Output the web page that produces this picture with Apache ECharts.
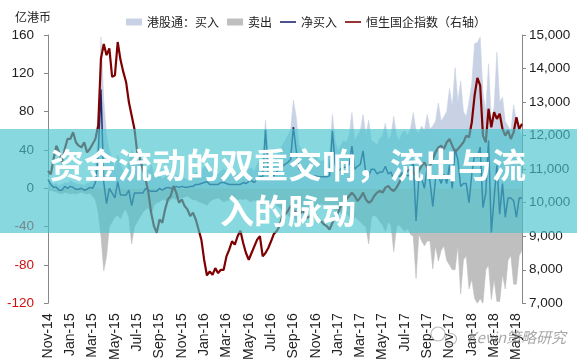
<!DOCTYPE html>
<html><head><meta charset="utf-8">
<script src="https://cdn.jsdelivr.net/npm/echarts@6/dist/echarts.min.js"></script>
<style>html,body{margin:0;padding:0;background:#fff}#c{width:577px;height:363px}</style>
</head><body><div id="c"></div>
<script>
// month names (tick labels are every second month)
const months = ["Nov-14","Dec-14",
 "Jan-15","Feb-15","Mar-15","Apr-15","May-15","Jun-15","Jul-15","Aug-15","Sep-15","Oct-15","Nov-15","Dec-15",
 "Jan-16","Feb-16","Mar-16","Apr-16","May-16","Jun-16","Jul-16","Aug-16","Sep-16","Oct-16","Nov-16","Dec-16",
 "Jan-17","Feb-17","Mar-17","Apr-17","May-17","Jun-17","Jul-17","Aug-17","Sep-17","Oct-17","Nov-17","Dec-17",
 "Jan-18","Feb-18","Mar-18","Apr-18","May-18"];

// 港股通：买入 (亿港币), ~weekly
const buy = [
 12,6,4,5,3,4,6,5,8,6,
 5,4,4,3,5,6,8,18,60,158,
 92,55,40,30,20,35,25,18,15,28,
 40,35,30,25,20,22,18,25,15,12,
 14,10,12,15,12,10,14,11,12,10,
 9,12,14,16,18,20,22,25,18,16,
 15,14,18,20,18,16,15,14,16,15,
 18,16,20,22,18,25,30,28,71,35,
 30,28,35,40,45,50,55,60,92,75,
 45,40,35,38,30,32,35,30,28,30,
 32,35,77,50,40,45,50,48,55,79,
 50,55,60,77,55,71,50,48,45,52,
 55,68,50,55,75,55,50,58,60,55,
 62,79,60,58,65,60,77,62,65,70,
 89,70,75,80,104,85,126,90,112,80,
 75,90,110,151,152,158,100,80,130,70,
 85,142,90,95,70,65,60,87,70,60,
 55];

// 卖出 (negative)
const sell = [
 -3,-2,-3,-4,-5,-6,-4,-5,-6,-5,
 -6,-5,-4,-5,-6,-5,-8,-12,-25,-50,
 -86,-71,-40,-35,-30,-28,-32,-25,-22,-30,
 -58,-40,-35,-30,-25,-22,-20,-28,-18,-15,
 -14,-12,-12,-14,-12,-10,-12,-10,-10,-9,
 -8,-10,-12,-12,-14,-15,-16,-18,-14,-12,
 -11,-10,-12,-14,-13,-12,-11,-10,-12,-11,
 -12,-11,-13,-14,-12,-15,-18,-16,-10,-18,
 -16,-15,-18,-20,-22,-25,-28,-30,-28,-35,
 -25,-22,-20,-22,-18,-20,-22,-18,-16,-18,
 -20,-22,-17,-25,-22,-25,-28,-26,-30,-35,
 -30,-32,-35,-38,-40,-58,-30,-28,-30,-35,
 -38,-45,-35,-38,-66,-40,-38,-42,-45,-42,
 -48,-50,-94,-48,-55,-60,-55,-55,-84,-60,
 -76,-65,-60,-75,-80,-85,-85,-60,-110,-75,
 -70,-105,-95,-115,-120,-115,-120,-85,-80,-116,
 -95,-118,-118,-90,-105,-75,-70,-100,-100,-70,
 -65];

// 净买入
const net = [
 9,4,1,1,-2,-2,2,0,2,1,
 -1,-1,0,-2,-1,1,0,6,35,103,
 6,-16,0,-5,-10,7,-7,-7,-7,-2,
 -18,-5,-5,-5,-5,0,-2,-3,-3,-3,
 0,-2,0,1,0,0,2,1,2,1,
 1,2,2,4,4,5,6,7,4,4,
 4,4,6,6,5,4,4,4,4,4,
 6,5,7,8,6,10,12,12,61,17,
 14,13,17,20,23,25,27,30,64,40,
 20,18,15,16,12,12,13,12,12,12,
 12,13,60,25,18,20,22,22,25,44,
 20,23,25,39,15,13,20,20,15,17,
 17,23,15,17,9,15,12,16,15,13,
 14,29,-34,10,10,0,22,7,-19,10,
 13,5,15,5,24,0,41,30,2,5,
 5,-15,15,36,32,43,-20,-5,50,-46,
 -10,24,-27,5,-30,-10,-10,-13,-30,-10,
 -10];

// 恒生国企指数（右轴）
const hscei = [
 10950,10850,11300,11700,11500,11200,11600,11900,11900,12100,
 11800,11700,11650,11800,11500,11600,11750,11900,12300,14300,
 14730,14400,14600,13750,13800,14790,14260,13900,13600,13000,
 12600,12200,11500,11300,11000,10700,10300,9700,9300,9100,
 9500,9400,9800,10100,10200,10500,10300,10000,10100,9900,
 9800,9600,9700,9500,9200,8900,8300,7830,7950,7850,
 8050,7900,8000,8000,8400,8600,8850,8750,9000,9160,
 8800,8500,8300,8500,8700,8900,9000,8400,8500,8650,
 8850,9070,9150,9300,9600,9650,9750,9900,9800,9700,
 9600,9750,9700,9550,9600,9700,9650,9500,9450,9350,
 9300,9200,9400,9600,9700,9900,10000,10100,10200,10300,
 10200,10050,10150,10300,10100,10000,10050,10200,10300,10350,
 10300,10450,10500,10400,10350,10450,10600,10800,10900,10950,
 11000,10900,10800,10950,11100,11200,11050,11100,11300,11500,
 11650,11700,11600,11800,11900,11700,11500,11600,11700,11800,
 12000,11950,12400,13200,13720,13500,12000,11800,12800,12250,
 12700,12500,12650,12200,12000,12150,11900,12100,12550,12200,
 12350];

const categories = [];
months.forEach(m => { for (let w = 1; w <= 4; w++) categories.push(m + ' W' + w); });
categories.length = buy.length;

const FONT = '"Liberation Sans", Arial, sans-serif';
const CJK = '"Noto Sans CJK SC", sans-serif';
const LINE_ICON = 'path://M0,0M0,2.6h18v1.8h-18zM18,7';

const chart = echarts.init(document.getElementById('c'));
chart.setOption({
  animation: false,
  backgroundColor: '#fff',
  grid: { left: 48, right: 55, top: 35, bottom: 58, containLabel: false },
  legend: {
    left: 121, top: 11, itemWidth: 16, itemHeight: 7, itemGap: 8,
    textStyle: { fontSize: 12, color: '#222', fontFamily: CJK },
    data: [{ name: '港股通：买入', icon: 'rect' }, { name: '卖出', icon: 'rect' },
           { name: '净买入', icon: LINE_ICON }, { name: '恒生国企指数（右轴）', icon: LINE_ICON }]
  },
  xAxis: {
    type: 'category', data: categories, boundaryGap: false,
    axisLine: { show: false }, axisTick: { show: false },
    axisLabel: {
      rotate: 90, fontSize: 14, color: '#222', fontFamily: FONT, margin: 10,
      interval: (idx) => idx % 8 === 0,
      formatter: (v) => v.split(' ')[0]
    },
    splitLine: { show: false }
  },
  yAxis: [{
    type: 'value', min: -120, max: 160, interval: 40,
    axisLine: { show: true, lineStyle: { color: '#888' } },
    axisTick: { show: true, inside: false, length: 4, lineStyle: { color: '#888' } },
    axisLabel: { fontSize: 13.5, fontFamily: FONT, margin: 14,
      color: (v) => (Number(v) < 0 ? '#CC1010' : '#222') },
    splitLine: { show: false }
  }, {
    type: 'value', min: 7000, max: 15000, interval: 1000, position: 'right',
    axisLine: { show: true, lineStyle: { color: '#888' } },
    axisTick: { show: true, inside: false, length: 4, lineStyle: { color: '#888' } },
    axisLabel: { fontSize: 13.5, fontFamily: FONT, color: '#222', margin: 7,
      formatter: (v) => Number(v).toLocaleString('en-US') },
    splitLine: { show: false }
  }],
  series: [
    { name: '港股通：买入', type: 'line', data: buy, symbol: 'none', z: 1,
      itemStyle: { color: '#C8D2E4' }, lineStyle: { width: 0.6, color: '#C8D2E4' },
      areaStyle: { color: '#C8D2E4', opacity: 1 } },
    { name: '卖出', type: 'line', data: sell, symbol: 'none', z: 1,
      itemStyle: { color: '#BFBFBF' }, lineStyle: { width: 0.6, color: '#BFBFBF' },
      areaStyle: { color: '#BFBFBF', opacity: 1 } },
    { name: '净买入', type: 'line', data: net, symbol: 'none', z: 3,
      itemStyle: { color: '#1F2A6E' }, lineStyle: { width: 1.5, color: '#1F2A6E' } },
    { name: '恒生国企指数（右轴）', type: 'line', yAxisIndex: 1, data: hscei, symbol: 'none', z: 4,
      itemStyle: { color: '#7F0000' }, lineStyle: { width: 2.2, color: '#7F0000' } }
  ],
  graphic: [
    { type: 'text', left: 15, top: 11, z: 50,
      style: { text: '亿港币', fill: '#222', font: '12px ' + CJK } },
    { type: 'rect', z: 100, shape: { x: 0, y: 129, width: 577, height: 104 },
      style: { fill: 'rgba(70,196,206,0.65)' } },
    { type: 'text', z: 101, x: 288, y: 188.5,
      style: { text: '资金流动的双重交响，流出与流\n入的脉动', fill: '#fff',
        font: 'bold 34px ' + CJK, align: 'center', verticalAlign: 'middle', lineHeight: 46,
        shadowColor: 'rgba(0,0,0,0.25)', shadowBlur: 3 } },
    { type: 'circle', z: 60, shape: { cx: 438, cy: 334, r: 7 },
      style: { fill: 'none', stroke: 'rgba(140,140,140,0.6)', lineWidth: 1.2 } },
    { type: 'circle', z: 60, shape: { cx: 451, cy: 339, r: 5.5 },
      style: { fill: 'none', stroke: 'rgba(140,140,140,0.6)', lineWidth: 1.2 } },
    { type: 'text', z: 60, x: 467, y: 337,
      style: { text: 'Kevin策略研究', fill: 'rgba(120,120,120,0.65)',
        font: 'italic 15px ' + CJK, verticalAlign: 'middle' } }
  ]
});
</script></body></html>
